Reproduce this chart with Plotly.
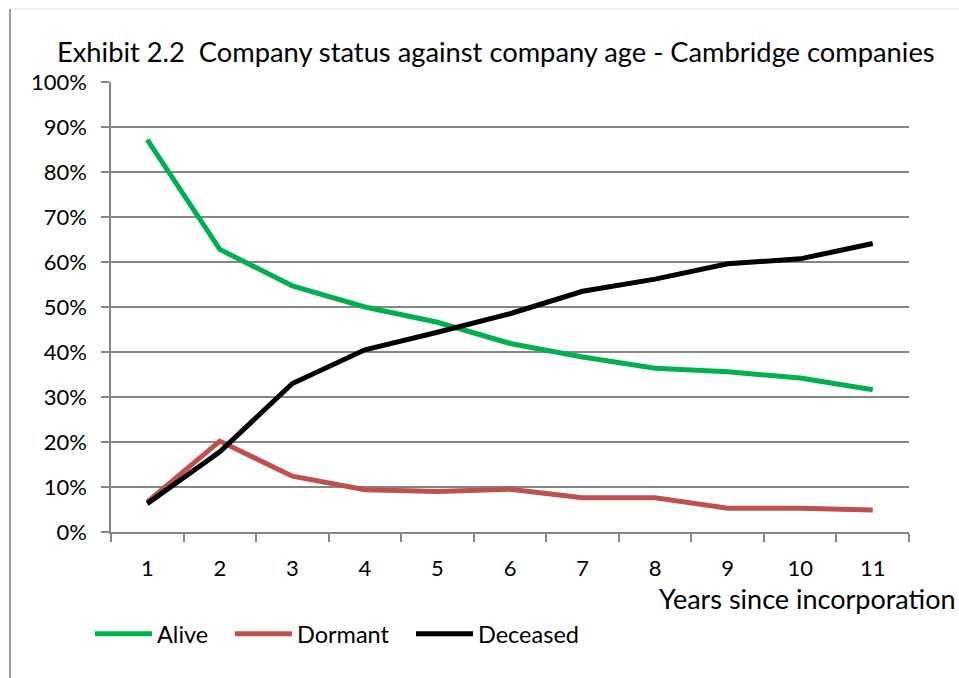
import plotly.graph_objects as go

years = ["1", "2", "3", "4", "5", "6", "7", "8", "9", "10", "11"]
alive = [0.872, 0.628, 0.547, 0.500, 0.466, 0.419, 0.389, 0.364, 0.356, 0.342, 0.316]
dormant = [0.067, 0.202, 0.124, 0.094, 0.090, 0.095, 0.076, 0.076, 0.053, 0.053, 0.049]
deceased = [0.063, 0.178, 0.330, 0.405, 0.444, 0.485, 0.535, 0.562, 0.596, 0.607, 0.641]

title_text = "Exhibit 2.2  Company status against company age - Cambridge companies"
x_title = "Years since incorporation"

FONT = "Lato, 'Noto Sans', sans-serif"
GRID = "#868686"

L, R, T, B = 111, 909, 82, 532
PW, PH = R - L, B - T


def px(xp):
    return (xp - L) / PW


def py(yp):
    return (B - yp) / PH


series = [("Alive", alive, "#00B050", "legend", 95),
          ("Dormant", dormant, "#C0504D", "legend2", 235),
          ("Deceased", deceased, "#000000", "legend3", 416)]

fig = go.Figure()
for name, vals, col, lg, _ in series:
    fig.add_trace(go.Scatter(x=years, y=vals, name=name, mode="lines", legend=lg,
                             line=dict(color=col, width=5)))

legend_common = dict(orientation="h", xanchor="left", y=py(634), yanchor="middle",
                     font=dict(size=23.5, family=FONT), itemwidth=57,
                     bgcolor="rgba(0,0,0,0)", borderwidth=0)
legends = {}
for name, vals, col, lg, xstart in series:
    legends[lg] = dict(legend_common, x=px(xstart - 5))

fig.update_layout(
    width=959, height=678,
    margin=dict(l=L, r=959 - R, t=T, b=678 - B),
    paper_bgcolor="white", plot_bgcolor="white",
    font=dict(family=FONT, color="#000000", size=22),
    title=dict(text=title_text, x=57/959, xanchor="left", y=1-52/678, yanchor="middle",
               font=dict(size=27.3, family=FONT)),
    showlegend=True,
    xaxis=dict(type="category", tickson="boundaries", ticks="outside", ticklen=8,
               tickcolor=GRID, tickwidth=1.5, showline=True, linecolor=GRID, linewidth=1.5,
               showgrid=False, ticklabelstandoff=16, tickfont=dict(size=22),
               range=[-0.5, 10.5]),
    yaxis=dict(range=[0, 1], dtick=0.1, tickformat=".0%", ticks="outside", ticklen=8,
               tickcolor=GRID, tickwidth=1.5, showline=True, linecolor=GRID, linewidth=1.5,
               showgrid=True, gridcolor=GRID, gridwidth=1.5, zeroline=False,
               ticklabelstandoff=10, tickfont=dict(size=22)),
    annotations=[dict(text=x_title, xref="paper", yref="paper", x=px(958), xanchor="right",
                      y=py(598), yanchor="middle", showarrow=False,
                      font=dict(size=27, family=FONT))],
    shapes=[
        dict(type="line", xref="paper", yref="paper", x0=px(10), x1=px(959),
             y0=py(9), y1=py(9), line=dict(color="#e6e6e6", width=1)),
        dict(type="line", xref="paper", yref="paper", x0=px(10), x1=px(10),
             y0=py(9), y1=py(678), line=dict(color="#9a9a9a", width=2)),
    ],
    **legends,
)

fig.write_html("out.html", config={"displayModeBar": False},
               post_script="document.body.style.margin='0';")
